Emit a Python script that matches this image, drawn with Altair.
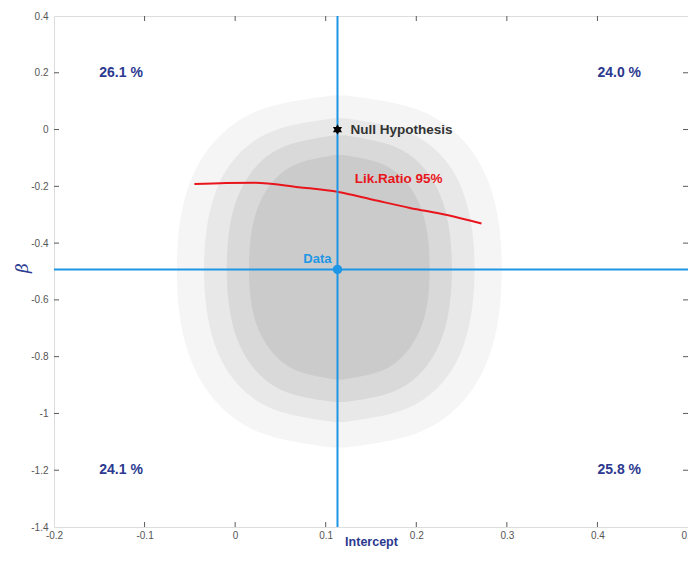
import altair as alt
import pandas as pd

# ---------------- data ----------------
# simulated cloud, summarised as nested density bands (y level, left edge, right edge), bottom to top
halo_y = [-1.12, -1.089, -1.026, -0.931, -0.805, -0.648, -0.49, -0.338, -0.185, -0.063, 0.029, 0.09, 0.12]
halo_l = [0.107, 0.038, -0.001, -0.031, -0.052, -0.063, -0.065, -0.063, -0.052, -0.031, -0.001, 0.038, 0.107]
halo_r = [0.123, 0.192, 0.231, 0.261, 0.282, 0.293, 0.295, 0.293, 0.282, 0.261, 0.231, 0.192, 0.123]

outer_y = [-1.03, -1.003, -0.949, -0.868, -0.76, -0.625, -0.49, -0.358, -0.225, -0.119, -0.04, 0.014, 0.04]
outer_l = [0.109, 0.051, 0.018, -0.007, -0.024, -0.033, -0.035, -0.033, -0.024, -0.007, 0.018, 0.051, 0.109]
outer_r = [0.121, 0.179, 0.212, 0.237, 0.254, 0.263, 0.265, 0.263, 0.254, 0.237, 0.212, 0.179, 0.121]

inner_y = [-0.96, -0.937, -0.89, -0.82, -0.725, -0.61, -0.49, -0.37, -0.255, -0.16, -0.09, -0.045, -0.02]
inner_l = [0.109, 0.061, 0.034, 0.014, -0.001, -0.008, -0.01, -0.008, -0.001, 0.014, 0.034, 0.061, 0.109]
inner_r = [0.121, 0.169, 0.196, 0.216, 0.231, 0.238, 0.24, 0.238, 0.231, 0.216, 0.196, 0.169, 0.121]

core_y = [-0.88, -0.86, -0.82, -0.76, -0.685, -0.59, -0.49, -0.39, -0.29, -0.21, -0.15, -0.11, -0.09]
core_l = [0.11, 0.072, 0.05, 0.034, 0.022, 0.016, 0.015, 0.016, 0.022, 0.034, 0.05, 0.072, 0.11]
core_r = [0.12, 0.158, 0.18, 0.196, 0.208, 0.214, 0.215, 0.214, 0.208, 0.196, 0.18, 0.158, 0.12]

# likelihood-ratio 95% curve
lr_x = [-0.045, -0.01, 0.022, 0.07, 0.114, 0.152, 0.193, 0.234, 0.272]
lr_y = [-0.192, -0.188, -0.187, -0.203, -0.220, -0.247, -0.276, -0.301, -0.331]

data_x = [0.113]
data_y = [-0.493]
null_x = [0.113]
null_y = [0.0]

quad_x = [-0.15, 0.40, -0.15, 0.40]
quad_y = [0.2, 0.2, -1.2, -1.2]
quad_txt = ["26.1 %", "24.0 %", "24.1 %", "25.8 %"]

x_ticks = [-0.2, -0.1, 0.0, 0.1, 0.2, 0.3, 0.4, 0.5]
y_ticks = [-1.4, -1.2, -1.0, -0.8, -0.6, -0.4, -0.2, 0.0, 0.2, 0.4]

# ---------------- styling ----------------
W, H = 634, 511
FONT = "Liberation Sans"
BLUE = "#1e96e6"
NAVY = "#2b3990"
RED = "#e8161c"
AX = "#5a5a5a"

xs = alt.Scale(domain=[-0.2, 0.5], nice=False, zero=False)
ys = alt.Scale(domain=[-1.4, 0.4], nice=False, zero=False)

lab = "datum.value == 0 ? '0' : toString(round(datum.value * 10) / 10)"
x_axis = alt.Axis(values=x_ticks, labelExpr=lab, ticks=False, domain=False, grid=False,
                  labelFlush=False, labelPadding=3, labelFontSize=10, labelColor="#555555",
                  labelFont=FONT, title="Intercept", titleFont=FONT, titleFontSize=12.5,
                  titleFontWeight="bold", titleColor=NAVY, titleY=14, titleBaseline="middle")
y_axis = alt.Axis(values=y_ticks, labelExpr=lab, ticks=False, domain=False, grid=False,
                  labelFlush=False, labelPadding=6, labelFontSize=10, labelColor="#555555",
                  labelFont=FONT, title="β", titleFont="DejaVu Serif", titleFontSize=17,
                  titleFontStyle="italic", titleFontWeight="normal", titleColor=NAVY,
                  titleX=-32, titleY=H / 2 - 4, titleAngle=-90, titleBaseline="middle",
                  titleAlign="center")


def X(f):
    return alt.X(f, type="quantitative", scale=xs, axis=x_axis, stack=None)


def Y(f):
    return alt.Y(f, type="quantitative", scale=ys, axis=y_axis, stack=None)


def cloud(yv, lv, rv, color):
    df = pd.DataFrame({"y": yv, "l": lv, "r": rv})
    return alt.Chart(df).mark_area(orient="horizontal", interpolate="basis",
                                   color=color, opacity=1).encode(
        y=Y("y"), x=X("l"), x2="r")


halo = cloud(halo_y, halo_l, halo_r, "#f5f5f5")
outer = cloud(outer_y, outer_l, outer_r, "#e8e8e8")
inner = cloud(inner_y, inner_l, inner_r, "#d9d9d9")
core = cloud(core_y, core_l, core_r, "#cbcbcb")

dxy = pd.DataFrame({"x": data_x, "y": data_y})
vline = alt.Chart(dxy).mark_rule(color=BLUE, strokeWidth=2).encode(x=X("x"))
hline = alt.Chart(dxy).mark_rule(color=BLUE, strokeWidth=2).encode(y=Y("y"))
dpt = alt.Chart(dxy).mark_point(filled=True, color=BLUE, size=90, opacity=1).encode(x=X("x"), y=Y("y"))
dtxt = alt.Chart(dxy).mark_text(text="Data", align="right", baseline="bottom", dx=-6, dy=-4,
                                font=FONT, fontSize=13, fontWeight="bold", color=BLUE).encode(
    x=X("x"), y=Y("y"))

lr = alt.Chart(pd.DataFrame({"x": lr_x, "y": lr_y})).mark_line(
    color=RED, strokeWidth=2, interpolate="monotone").encode(x=X("x"), y=Y("y"))
lrtxt = alt.Chart(pd.DataFrame({"x": [0.132], "y": [-0.174]})).mark_text(
    text="Lik.Ratio 95%", align="left", baseline="middle", font=FONT, fontSize=13.5,
    fontWeight="bold", color=RED).encode(x=X("x"), y=Y("y"))

hexagram = "M0,-1L0.866,0.5L-0.866,0.5Z M0,1L-0.866,-0.5L0.866,-0.5Z"
ndf = pd.DataFrame({"x": null_x, "y": null_y})
npt = alt.Chart(ndf).mark_point(shape=hexagram, filled=True, color="black", size=110,
                                opacity=1).encode(x=X("x"), y=Y("y"))
ntxt = alt.Chart(ndf).mark_text(text="Null Hypothesis", align="left", baseline="middle", dx=13,
                                font=FONT, fontSize=13.5, fontWeight="bold",
                                color="#333333").encode(x=X("x"), y=Y("y"))

qtxt = alt.Chart(pd.DataFrame({"x": quad_x, "y": quad_y, "t": quad_txt})).mark_text(
    align="left", baseline="middle", font=FONT, fontSize=14, fontWeight="bold",
    color=NAVY).encode(x=X("x"), y=Y("y"), text="t:N")

# inward tick marks on all four sides (MATLAB box style)
xt = pd.DataFrame({"v": x_ticks[1:-1]})
yt = pd.DataFrame({"v": y_ticks[1:-1]})
tb = alt.Chart(xt).mark_rule(color=AX).encode(x=X("v"), y=alt.value(H), y2=alt.value(H - 5))
tt = alt.Chart(xt).mark_rule(color=AX).encode(x=X("v"), y=alt.value(0), y2=alt.value(5))
tl = alt.Chart(yt).mark_rule(color=AX).encode(y=Y("v"), x=alt.value(0), x2=alt.value(5))
tr = alt.Chart(yt).mark_rule(color=AX).encode(y=Y("v"), x=alt.value(W), x2=alt.value(W - 5))

chart = alt.layer(halo, outer, inner, core, lr, vline, hline, dpt, dtxt, lrtxt, npt, ntxt, qtxt,
                  tb, tt, tl, tr).properties(
    width=W, height=H,
    autosize=alt.AutoSizeParams(type="none"),
    padding={"left": 46, "top": 8, "right": 0, "bottom": 24},
).configure_view(stroke=AX, strokeWidth=1).configure(background="white")

chart.save("out.html", embed_options={"renderer": "svg", "actions": False})
